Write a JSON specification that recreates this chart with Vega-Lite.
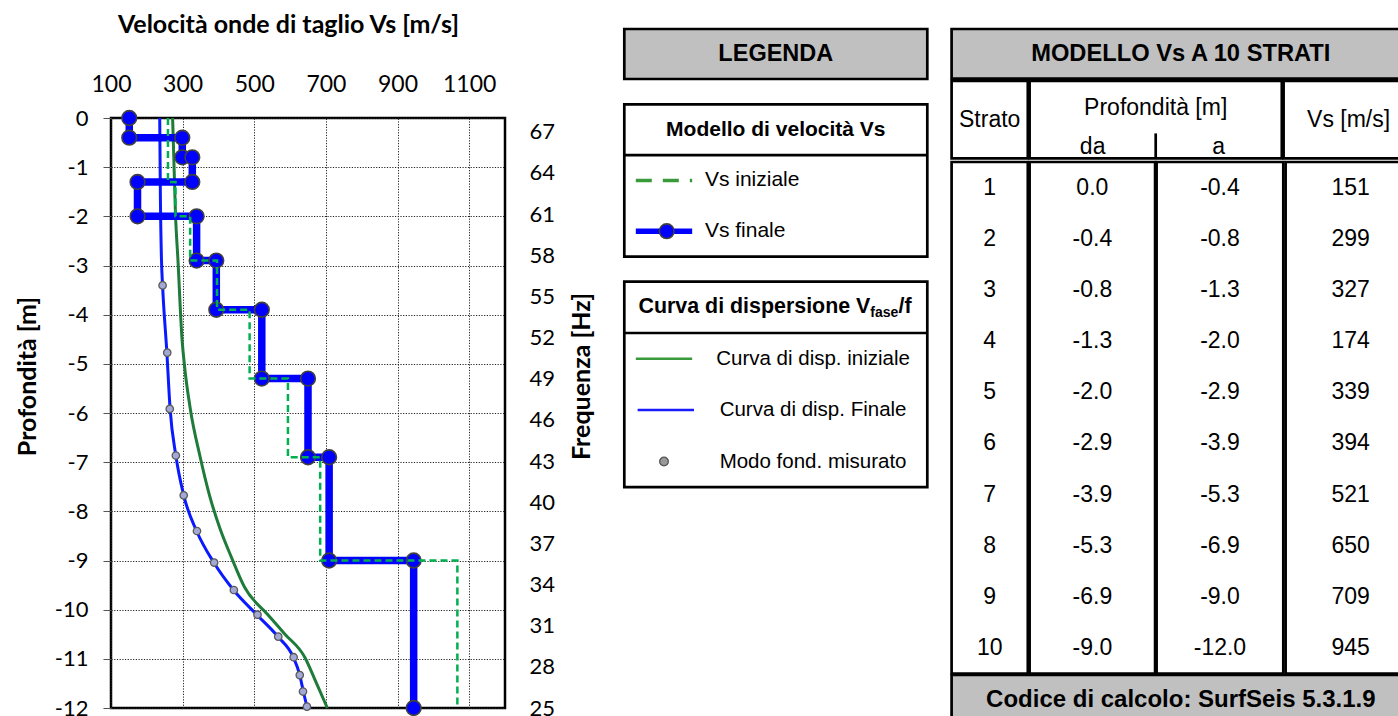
{
  "$schema": "https://vega.github.io/schema/vega-lite/v6.json",
  "padding": {"left": 14, "top": 0, "right": 0, "bottom": 0},
  "background": "white",
  "config": {
    "view": {"stroke": null},
    "locale": {"number": {"decimal": ".", "thousands": ",", "grouping": [3], "currency": ["$", ""], "minus": "-"}},
    "axis": {"labelFont": "Lato", "titleFont": "Lato", "labelColor": "black", "titleColor": "black"},
    "text": {"font": "Liberation Sans", "color": "black"}
  },
  "datasets": {
    "strati": [
      {"strato": 1, "da": 0.0, "a": -0.4, "vs": 151, "vs0": 259},
      {"strato": 2, "da": -0.4, "a": -0.8, "vs": 299, "vs0": 259},
      {"strato": 3, "da": -0.8, "a": -1.3, "vs": 327, "vs0": 259},
      {"strato": 4, "da": -1.3, "a": -2.0, "vs": 174, "vs0": 280},
      {"strato": 5, "da": -2.0, "a": -2.9, "vs": 339, "vs0": 321},
      {"strato": 6, "da": -2.9, "a": -3.9, "vs": 394, "vs0": 396},
      {"strato": 7, "da": -3.9, "a": -5.3, "vs": 521, "vs0": 487},
      {"strato": 8, "da": -5.3, "a": -6.9, "vs": 650, "vs0": 594},
      {"strato": 9, "da": -6.9, "a": -9.0, "vs": 709, "vs0": 684},
      {"strato": 10, "da": -9.0, "a": -12.0, "vs": 945, "vs0": 1067}
    ],
    "misurato": [
      {"f": 55.8, "v": 244}, {"f": 50.9, "v": 257}, {"f": 46.8, "v": 264}, {"f": 43.4, "v": 281},
      {"f": 40.5, "v": 303}, {"f": 37.9, "v": 340}, {"f": 35.6, "v": 388}, {"f": 33.6, "v": 443},
      {"f": 31.8, "v": 509}, {"f": 30.2, "v": 567}, {"f": 28.7, "v": 610}, {"f": 27.4, "v": 627},
      {"f": 26.2, "v": 636}, {"f": 25.1, "v": 647}
    ],
    "disp_fin": [
      {"f": 68, "v": 236}, {"f": 62, "v": 238}, {"f": 57.6, "v": 241}, {"f": 55.8, "v": 244},
      {"f": 50.9, "v": 256}, {"f": 46.8, "v": 265}, {"f": 43.4, "v": 281}, {"f": 40.5, "v": 303},
      {"f": 37.9, "v": 339}, {"f": 35.6, "v": 387}, {"f": 33.6, "v": 442}, {"f": 31.8, "v": 507},
      {"f": 30.2, "v": 566}, {"f": 28.7, "v": 609}, {"f": 27.4, "v": 627}, {"f": 26.2, "v": 637},
      {"f": 25.0, "v": 648}
    ],
    "disp_ini": [
      {"f": 68, "v": 272}, {"f": 61, "v": 280}, {"f": 57.6, "v": 287}, {"f": 52, "v": 298},
      {"f": 50, "v": 305}, {"f": 46.7, "v": 322}, {"f": 43.4, "v": 348}, {"f": 40.5, "v": 375},
      {"f": 38.1, "v": 404}, {"f": 36, "v": 436}, {"f": 33.8, "v": 473}, {"f": 31.8, "v": 538},
      {"f": 30.4, "v": 585}, {"f": 28.7, "v": 641}, {"f": 26.9, "v": 672}, {"f": 25.0, "v": 704}
    ]
  },
  "spacing": 25.3,
  "hconcat": [
    {
      "spacing": 0,
      "vconcat": [
        {
          "width": 10, "height": 10,
          "data": {"values": [{}]},
          "mark": {"type": "point", "opacity": 0},
          "encoding": {}
        },
        {
          "width": 394,
          "height": 590,
          "view": {"stroke": "black", "strokeWidth": 2.5},
          "resolve": {"scale": {"y": "independent"}},
          "layer": [
            {
              "encoding": {
                "y": {
                  "field": "f", "type": "quantitative",
                  "scale": {"domain": [25, 68], "nice": false, "zero": false},
                  "axis": {
                    "orient": "right", "values": [25, 28, 31, 34, 37, 40, 43, 46, 49, 52, 55, 58, 61, 64, 67],
                    "grid": false, "ticks": false, "domain": false,
                    "labelFontSize": 22, "labelPadding": 24, "labelFlush": false, "labelOverlap": false,
                    "title": "Frequenza [Hz]", "titleFontSize": 25, "titleFontWeight": "bold",
                    "titleAngle": 270, "titleBaseline": "top", "titlePadding": 15, "titleY": 258
                  }
                }
              },
              "layer": [
                {
                  "data": {"name": "disp_ini"},
                  "mark": {"type": "line", "color": "#1e7b3a", "strokeWidth": 3, "interpolate": "monotone"},
                  "encoding": {
                    "x": {
                      "field": "v", "type": "quantitative",
                      "scale": {"domain": [100, 1200], "nice": false, "zero": false},
                      "title": "Velocità onde di taglio Vs [m/s]",
                      "axis": {
                        "orient": "top", "values": [100, 200, 300, 400, 500, 600, 700, 800, 900, 1000, 1100, 1200],
                        "format": "d",
                        "labelExpr": "datum.value % 200 == 100 ? datum.label : ''",
                        "grid": true, "gridColor": "#222222", "gridDash": [1.2, 1.5], "gridWidth": 1,
                        "ticks": false, "domain": false,
                        "labelFontSize": 23, "labelPadding": 22, "labelFlush": false, "labelOverlap": false,
                        "title": "Velocità onde di taglio Vs [m/s]", "titleFontSize": 25, "titleFontWeight": "bold",
                        "titlePadding": 36, "titleX": 177
                      }
                    }
                  }
                },
                {
                  "data": {"name": "disp_fin"},
                  "mark": {"type": "line", "color": "#0a1aff", "strokeWidth": 3, "interpolate": "monotone"},
                  "encoding": {
                    "x": {"field": "v", "type": "quantitative", "scale": {"domain": [100, 1200], "nice": false, "zero": false}, "title": "Velocità onde di taglio Vs [m/s]"}
                  }
                },
                {
                  "data": {"name": "misurato"},
                  "mark": {"type": "point", "filled": true, "fill": "#a3a9d6", "stroke": "#5a5a5a", "strokeWidth": 1.3, "size": 55, "opacity": 1},
                  "encoding": {
                    "x": {"field": "v", "type": "quantitative", "scale": {"domain": [100, 1200], "nice": false, "zero": false}, "title": "Velocità onde di taglio Vs [m/s]"}
                  }
                }
              ]
            },
            {
              "data": {"name": "strati"},
              "transform": [
                {"fold": ["da", "a"], "as": ["estremo", "prof"]},
                {"window": [{"op": "row_number", "as": "ordine"}]}
              ],
              "encoding": {
                "y": {
                  "field": "prof", "type": "quantitative",
                  "scale": {"domain": [-12, 0], "nice": false, "zero": false},
                  "axis": {
                    "orient": "left", "values": [-12, -11, -10, -9, -8, -7, -6, -5, -4, -3, -2, -1, 0],
                    "grid": true, "gridColor": "#222222", "gridDash": [1.2, 1.5], "gridWidth": 1,
                    "ticks": true, "tickSize": 8, "tickColor": "#555555", "tickWidth": 1, "domain": false,
                    "labelFontSize": 22, "labelPadding": 15, "labelFlush": false, "labelOverlap": false,
                    "title": "Profondità [m]", "titleFontSize": 25, "titleFontWeight": "bold", "titlePadding": 14,
                    "titleY": 258
                  }
                }
              },
              "layer": [
                {
                  "mark": {"type": "line", "color": "#0000ff", "strokeWidth": 7.5},
                  "encoding": {
                    "x": {"field": "vs", "type": "quantitative", "scale": {"domain": [100, 1200], "nice": false, "zero": false}, "title": "Velocità onde di taglio Vs [m/s]"},
                    "order": {"field": "ordine", "type": "quantitative"}
                  }
                },
                {
                  "mark": {"type": "point", "filled": true, "fill": "#0000ff", "stroke": "#404040", "strokeWidth": 1.6, "size": 215, "opacity": 1},
                  "encoding": {
                    "x": {"field": "vs", "type": "quantitative", "scale": {"domain": [100, 1200], "nice": false, "zero": false}, "title": "Velocità onde di taglio Vs [m/s]"}
                  }
                },
                {
                  "mark": {"type": "line", "color": "#00b050", "strokeWidth": 2.5, "strokeDash": [7, 4]},
                  "encoding": {
                    "x": {"field": "vs0", "type": "quantitative", "scale": {"domain": [100, 1200], "nice": false, "zero": false}, "title": "Velocità onde di taglio Vs [m/s]"},
                    "order": {"field": "ordine", "type": "quantitative"}
                  }
                }
              ]
            }
          ]
        }
      ]
    },
    {
      "spacing": 0,
      "vconcat": [
        {
          "width": 10, "height": 26.95,
          "data": {"values": [{}]},
          "mark": {"type": "point", "opacity": 0},
          "encoding": {}
        },
        {
          "spacing": 19.3,
          "hconcat": [
            {
              "spacing": 21.3,
              "vconcat": [
                {
                  "width": 303, "height": 50,
                  "view": {"fill": "#c0c0c0", "stroke": "black", "strokeWidth": 2.7},
                  "data": {"values": [{"t": "LEGENDA"}]},
                  "mark": {"type": "text", "fontSize": 23.5, "fontWeight": "bold"},
                  "encoding": {"text": {"field": "t"}}
                },
                {
                  "width": 303, "height": 152.3,
                  "view": {"fill": "white", "stroke": "black", "strokeWidth": 2.7},
                  "data": {"values": [
                    {"voce": "Modello di velocità Vs", "tipo": "titolo"},
                    {"voce": "Vs iniziale", "tipo": "voce"},
                    {"voce": "Vs finale", "tipo": "voce"}
                  ]},
                  "encoding": {
                    "y": {"field": "voce", "type": "nominal", "scale": {"domain": ["Modello di velocità Vs", "Vs iniziale", "Vs finale"], "paddingInner": 0, "paddingOuter": 0}, "axis": null}
                  },
                  "layer": [
                    {
                      "transform": [{"filter": "datum.tipo == 'titolo'"}],
                      "mark": {"type": "text", "fontSize": 21, "fontWeight": "bold"},
                      "encoding": {"text": {"field": "voce"}}
                    },
                    {
                      "transform": [{"filter": "datum.voce == 'Vs iniziale'"}],
                      "mark": {"type": "rule", "color": "black", "strokeWidth": 2.7},
                      "encoding": {
                        "y": {"field": "voce", "type": "nominal", "bandPosition": 0},
                        "x": {"datum": 0, "type": "quantitative", "scale": {"domain": [0, 1]}, "axis": null},
                        "x2": {"datum": 1}
                      }
                    },
                    {
                      "transform": [{"filter": "datum.tipo == 'voce'"}],
                      "mark": {"type": "text", "fontSize": 21, "align": "left"},
                      "encoding": {
                        "text": {"field": "voce"},
                        "x": {"datum": 0.266, "type": "quantitative", "scale": {"domain": [0, 1]}, "axis": null}
                      }
                    },
                    {
                      "transform": [{"filter": "datum.voce == 'Vs iniziale'"}],
                      "mark": {"type": "rule", "color": "#3a9a3a", "strokeWidth": 3.5, "strokeDash": [16, 11]},
                      "encoding": {
                        "x": {"datum": 0.038, "type": "quantitative", "scale": {"domain": [0, 1]}, "axis": null},
                        "x2": {"datum": 0.224}
                      }
                    },
                    {
                      "transform": [{"filter": "datum.voce == 'Vs finale'"}],
                      "mark": {"type": "rule", "color": "#0000ff", "strokeWidth": 5.5},
                      "encoding": {
                        "x": {"datum": 0.038, "type": "quantitative", "scale": {"domain": [0, 1]}, "axis": null},
                        "x2": {"datum": 0.224}
                      }
                    },
                    {
                      "transform": [{"filter": "datum.voce == 'Vs finale'"}],
                      "mark": {"type": "point", "filled": true, "fill": "#0000ff", "stroke": "#404040", "strokeWidth": 1.6, "size": 215, "opacity": 1},
                      "encoding": {
                        "x": {"datum": 0.14, "type": "quantitative", "scale": {"domain": [0, 1]}, "axis": null}
                      }
                    }
                  ]
                },
                {
                  "width": 303, "height": 205.6,
                  "view": {"fill": "white", "stroke": "black", "strokeWidth": 2.7},
                  "data": {"values": [
                    {"voce": "Curva di dispersione V", "tipo": "titolo"},
                    {"voce": "Curva di disp. iniziale", "tipo": "voce"},
                    {"voce": "Curva di disp. Finale", "tipo": "voce"},
                    {"voce": "Modo fond. misurato", "tipo": "voce"}
                  ]},
                  "encoding": {
                    "y": {"field": "voce", "type": "nominal", "scale": {"domain": ["Curva di dispersione V", "Curva di disp. iniziale", "Curva di disp. Finale", "Modo fond. misurato"], "paddingInner": 0, "paddingOuter": 0}, "axis": null}
                  },
                  "layer": [
                    {
                      "transform": [{"filter": "datum.tipo == 'titolo'"}],
                      "mark": {"type": "text", "fontSize": 21.4, "fontWeight": "bold", "align": "right"},
                      "encoding": {
                        "text": {"field": "voce"},
                        "x": {"datum": 0.812, "type": "quantitative", "scale": {"domain": [0, 1]}, "axis": null}
                      }
                    },
                    {
                      "transform": [{"filter": "datum.tipo == 'titolo'"}],
                      "mark": {"type": "text", "fontSize": 14, "fontWeight": "bold", "align": "left", "dy": 6, "text": "fase"},
                      "encoding": {
                        "x": {"datum": 0.812, "type": "quantitative", "scale": {"domain": [0, 1]}, "axis": null}
                      }
                    },
                    {
                      "transform": [{"filter": "datum.tipo == 'titolo'"}],
                      "mark": {"type": "text", "fontSize": 21.4, "fontWeight": "bold", "align": "left", "text": "/f"},
                      "encoding": {
                        "x": {"datum": 0.905, "type": "quantitative", "scale": {"domain": [0, 1]}, "axis": null}
                      }
                    },
                    {
                      "transform": [{"filter": "datum.voce == 'Curva di disp. iniziale'"}],
                      "mark": {"type": "rule", "color": "black", "strokeWidth": 2.7},
                      "encoding": {
                        "y": {"field": "voce", "type": "nominal", "bandPosition": 0},
                        "x": {"datum": 0, "type": "quantitative", "scale": {"domain": [0, 1]}, "axis": null},
                        "x2": {"datum": 1}
                      }
                    },
                    {
                      "transform": [{"filter": "datum.tipo == 'voce'"}],
                      "mark": {"type": "text", "fontSize": 20.5, "align": "center"},
                      "encoding": {
                        "text": {"field": "voce"},
                        "x": {"datum": 0.623, "type": "quantitative", "scale": {"domain": [0, 1]}, "axis": null}
                      }
                    },
                    {
                      "transform": [{"filter": "datum.voce == 'Curva di disp. iniziale'"}],
                      "mark": {"type": "rule", "color": "#3a9a3a", "strokeWidth": 2.5},
                      "encoding": {
                        "x": {"datum": 0.038, "type": "quantitative", "scale": {"domain": [0, 1]}, "axis": null},
                        "x2": {"datum": 0.224}
                      }
                    },
                    {
                      "transform": [{"filter": "datum.voce == 'Curva di disp. Finale'"}],
                      "mark": {"type": "rule", "color": "#1a1aff", "strokeWidth": 2.5},
                      "encoding": {
                        "x": {"datum": 0.044, "type": "quantitative", "scale": {"domain": [0, 1]}, "axis": null},
                        "x2": {"datum": 0.23}
                      }
                    },
                    {
                      "transform": [{"filter": "datum.voce == 'Modo fond. misurato'"}],
                      "mark": {"type": "point", "filled": true, "fill": "#999999", "stroke": "#555555", "strokeWidth": 1.3, "size": 75, "opacity": 1},
                      "encoding": {
                        "x": {"datum": 0.131, "type": "quantitative", "scale": {"domain": [0, 1]}, "axis": null}
                      }
                    }
                  ]
                }
              ]
            },
            {
              "spacing": -5.4,
              "vconcat": [
                {
                  "width": 458.4, "height": 49.7,
                  "view": {"fill": "#c0c0c0", "stroke": "black", "strokeWidth": 2.7},
                  "data": {"values": [{"t": "MODELLO Vs A 10 STRATI"}]},
                  "mark": {"type": "text", "fontSize": 23.7, "fontWeight": "bold"},
                  "encoding": {"text": {"field": "t"}}
                },
                {
                  "spacing": -5.4,
                  "hconcat": [
                    {
                      "width": 76.2, "height": 77.4,
                      "view": {"fill": "white", "stroke": "black", "strokeWidth": 2.7},
                      "data": {"values": [{"t": "Strato"}]},
                      "mark": {"type": "text", "fontSize": 23},
                      "encoding": {"text": {"field": "t"}}
                    },
                    {
                      "width": 252.2, "height": 77.4,
                      "view": {"fill": "white", "stroke": "black", "strokeWidth": 2.7},
                      "data": {"values": [{"col": "da"}, {"col": "a"}]},
                      "layer": [
                        {
                          "transform": [{"filter": "datum.col == 'da'"}],
                          "mark": {"type": "text", "fontSize": 23, "text": "Profondità [m]"},
                          "encoding": {
                            "y": {"datum": 0.354, "type": "quantitative", "scale": {"domain": [0, 1], "reverse": true}, "axis": null}
                          }
                        },
                        {
                          "mark": {"type": "text", "fontSize": 23},
                          "encoding": {
                            "x": {"field": "col", "type": "nominal", "scale": {"domain": ["da", "a"], "paddingInner": 0, "paddingOuter": 0}, "axis": null},
                            "y": {"datum": 0.85, "type": "quantitative", "scale": {"domain": [0, 1], "reverse": true}, "axis": null},
                            "text": {"field": "col"}
                          }
                        },
                        {
                          "transform": [{"filter": "datum.col == 'da'"}],
                          "mark": {"type": "rule", "color": "black", "strokeWidth": 2.7},
                          "encoding": {
                            "x": {"field": "col", "type": "nominal", "bandPosition": 1, "axis": null},
                            "y": {"datum": 0.677, "type": "quantitative", "scale": {"domain": [0, 1], "reverse": true}, "axis": null},
                            "y2": {"datum": 1}
                          }
                        }
                      ]
                    },
                    {
                      "width": 130, "height": 77.4,
                      "view": {"fill": "white", "stroke": "black", "strokeWidth": 2.7},
                      "data": {"values": [{"t": "Vs [m/s]"}]},
                      "mark": {"type": "text", "fontSize": 23},
                      "encoding": {"text": {"field": "t"}}
                    }
                  ]
                },
                {
                  "spacing": -5.4,
                  "hconcat": [
                    {
                      "width": 76.2, "height": 511.6,
                      "view": {"fill": "white", "stroke": "black", "strokeWidth": 2.7},
                      "data": {"name": "strati"},
                      "mark": {"type": "text", "fontSize": 23},
                      "encoding": {
                        "y": {"field": "strato", "type": "ordinal", "scale": {"paddingInner": 0, "paddingOuter": 0}, "axis": null},
                        "text": {"field": "strato", "type": "quantitative", "format": "d"}
                      }
                    },
                    {
                      "width": 125.5, "height": 511.6,
                      "view": {"fill": "white", "stroke": "black", "strokeWidth": 2.7},
                      "data": {"name": "strati"},
                      "mark": {"type": "text", "fontSize": 23},
                      "encoding": {
                        "y": {"field": "strato", "type": "ordinal", "scale": {"paddingInner": 0, "paddingOuter": 0}, "axis": null},
                        "text": {"field": "da", "type": "quantitative", "format": ".1f"}
                      }
                    },
                    {
                      "width": 126.7, "height": 511.6,
                      "view": {"fill": "white", "stroke": "black", "strokeWidth": 2.7},
                      "data": {"name": "strati"},
                      "mark": {"type": "text", "fontSize": 23},
                      "encoding": {
                        "y": {"field": "strato", "type": "ordinal", "scale": {"paddingInner": 0, "paddingOuter": 0}, "axis": null},
                        "text": {"field": "a", "type": "quantitative", "format": ".1f"}
                      }
                    },
                    {
                      "width": 130, "height": 511.6,
                      "view": {"fill": "white", "stroke": "black", "strokeWidth": 2.7},
                      "data": {"name": "strati"},
                      "mark": {"type": "text", "fontSize": 23},
                      "encoding": {
                        "y": {"field": "strato", "type": "ordinal", "scale": {"paddingInner": 0, "paddingOuter": 0}, "axis": null},
                        "text": {"field": "vs", "type": "quantitative", "format": "d"}
                      }
                    }
                  ]
                },
                {
                  "width": 458.4, "height": 50,
                  "view": {"fill": "#c0c0c0", "stroke": "black", "strokeWidth": 2.7},
                  "data": {"values": [{"t": "Codice di calcolo: SurfSeis 5.3.1.9"}]},
                  "mark": {"type": "text", "fontSize": 24, "fontWeight": "bold"},
                  "encoding": {"text": {"field": "t"}}
                }
              ]
            }
          ]
        }
      ]
    }
  ]
}
